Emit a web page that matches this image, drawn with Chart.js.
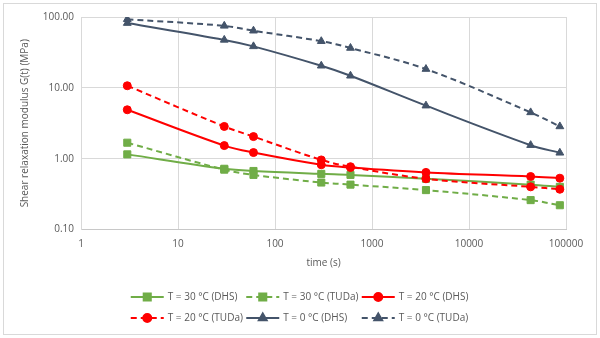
<!DOCTYPE html>
<html>
<head>
<meta charset="utf-8">
<script src="https://cdn.jsdelivr.net/npm/chart.js@4/dist/chart.umd.min.js"></script>
<style>
  html, body { margin: 0; padding: 0; background: #fff; }
  canvas { display: block; }
</style>
</head>
<body>
<canvas id="c" width="600" height="338"></canvas>
<script>
// ---- data ----
const times = [3, 30, 60, 300, 600, 3600, 43200, 86400];
const g30DHS  = [1.15, 0.72, 0.67, 0.61, 0.59, 0.52, 0.43, 0.40];
const g30TUDa = [1.68, 0.70, 0.59, 0.46, 0.43, 0.36, 0.26, 0.22];
const g20DHS  = [4.9, 1.53, 1.22, 0.82, 0.75, 0.64, 0.56, 0.53];
const g20TUDa = [10.7, 2.85, 2.05, 0.96, 0.77, 0.52, 0.40, 0.37];
const g0DHS   = [82, 47.5, 38.5, 20.5, 14.8, 5.6, 1.55, 1.21];
const g0TUDa  = [93, 75, 64, 45.5, 36.5, 18.4, 4.5, 2.85];
const seriesLabels = ['T = 30 °C (DHS)', 'T = 30 °C (TUDa)', 'T = 20 °C (DHS)',
                      'T = 20 °C (TUDa)', 'T = 0 °C (DHS)', 'T = 0 °C (TUDa)'];
const xTickValues = [1, 10, 100, 1000, 10000, 100000];
const xTickLabels = ['1', '10', '100', '1000', '10000', '100000'];
const yTickValues = [0.1, 1, 10, 100];
const yTickLabels = ['0.10', '1.00', '10.00', '100.00'];
const xTitle = 'time (s)';
const yTitle = 'Shear relaxation modulus G(t) (MPa)';

const GREEN = '#70AD47', RED = '#FF0000', NAVY = '#44546A';
const DASH = [6, 4];

function pts(arr) { return times.map((t, i) => ({ x: t, y: arr[i] })); }

function ds(label, arr, color, dashed, style, radius, order) {
  return {
    label, data: pts(arr),
    borderColor: color, backgroundColor: color,
    pointBackgroundColor: color, pointBorderColor: color,
    borderWidth: 2, borderDash: dashed ? DASH : [],
    pointStyle: style, pointRadius: radius, pointHoverRadius: radius,
    pointBorderWidth: 1, tension: 0.35, order
  };
}

const datasets = [
  ds(seriesLabels[0], g30DHS, GREEN, false, 'rect', 5, 6),
  ds(seriesLabels[1], g30TUDa, GREEN, true, 'rect', 5, 5),
  ds(seriesLabels[2], g20DHS, RED, false, 'circle', 4, 4),
  ds(seriesLabels[3], g20TUDa, RED, true, 'circle', 4, 3),
  ds(seriesLabels[4], g0DHS, NAVY, false, 'triangle', 4.5, 2),
  ds(seriesLabels[5], g0TUDa, NAVY, true, 'triangle', 4.5, 1),
];

const frame = {
  id: 'frame',
  beforeDraw(chart) {
    const ctx = chart.ctx;
    ctx.save();
    ctx.fillStyle = '#fff';
    ctx.fillRect(0, 0, chart.width, chart.height);
    ctx.strokeStyle = '#D9D9D9';
    ctx.lineWidth = 1;
    ctx.strokeRect(3.5, 3.5, chart.width - 7, chart.height - 7);
    ctx.restore();
  }
};

const customLegend = {
  id: 'customLegend',
  afterDraw(chart) {
    const ctx = chart.ctx;
    const colW = 115.5, cols = 3;
    const x0 = (chart.width - cols * colW) / 2 + 4;
    const rowsY = [297, 318];
    ctx.save();
    ctx.font = "10px 'Open Sans', sans-serif";
    ctx.textBaseline = 'middle';
    ctx.textAlign = 'left';
    chart.data.datasets.forEach((d, i) => {
      const col = i % cols, row = Math.floor(i / cols);
      const x = x0 + col * colW, y = rowsY[row];
      ctx.strokeStyle = d.borderColor;
      ctx.lineWidth = 2;
      ctx.setLineDash(d.borderDash);
      ctx.beginPath();
      ctx.moveTo(x, y);
      ctx.lineTo(x + 33, y);
      ctx.stroke();
      ctx.setLineDash([]);
      ctx.fillStyle = d.borderColor;
      ctx.strokeStyle = d.borderColor;
      Chart.helpers.drawPoint(ctx, {
        pointStyle: d.pointStyle, radius: d.pointRadius, rotation: 0, borderWidth: 1
      }, x + 16.5, y);
      ctx.fillStyle = '#595959';
      ctx.fillText(d.label, x + 37, y + 0.5);
    });
    ctx.restore();
  }
};

Chart.defaults.font.family = "'Open Sans', sans-serif";
Chart.defaults.font.size = 10;
Chart.defaults.color = '#595959';

new Chart(document.getElementById('c'), {
  type: 'line',
  data: { datasets },
  options: {
    responsive: false,
    animation: false,
    layout: { padding: { top: 17, right: 34, left: 0, bottom: 58.5 } },
    plugins: { legend: { display: false }, tooltip: { enabled: false } },
    scales: {
      x: {
        type: 'logarithmic', min: 1, max: 100000,
        afterBuildTicks(s) { s.ticks = xTickValues.map(v => ({ value: v })); },
        afterFit(s) { s.height = 50; },
        ticks: {
          autoSkip: false, maxRotation: 0, padding: 9,
          callback(v) { const i = xTickValues.indexOf(v); return i >= 0 ? xTickLabels[i] : ''; }
        },
        grid: { color: '#D9D9D9', drawTicks: false, lineWidth: 1 },
        border: { color: '#C8C8C8' },
        title: { display: true, text: xTitle, padding: { top: 0, bottom: 10.5 }, font: { size: 10 } }
      },
      y: {
        type: 'logarithmic', min: 0.1, max: 100,
        afterBuildTicks(s) { s.ticks = yTickValues.map(v => ({ value: v })); },
        afterFit(s) { s.width = 81; },
        ticks: {
          autoSkip: false, padding: 7,
          callback(v) { const i = yTickValues.indexOf(v); return i >= 0 ? yTickLabels[i] : ''; }
        },
        grid: { color: '#D9D9D9', drawTicks: false, lineWidth: 1 },
        border: { color: '#D9D9D9' },
        title: { display: true, text: yTitle, padding: { top: 19, bottom: 0 }, font: { size: 10 } }
      }
    }
  },
  plugins: [frame, customLegend]
});
</script>
</body>
</html>
